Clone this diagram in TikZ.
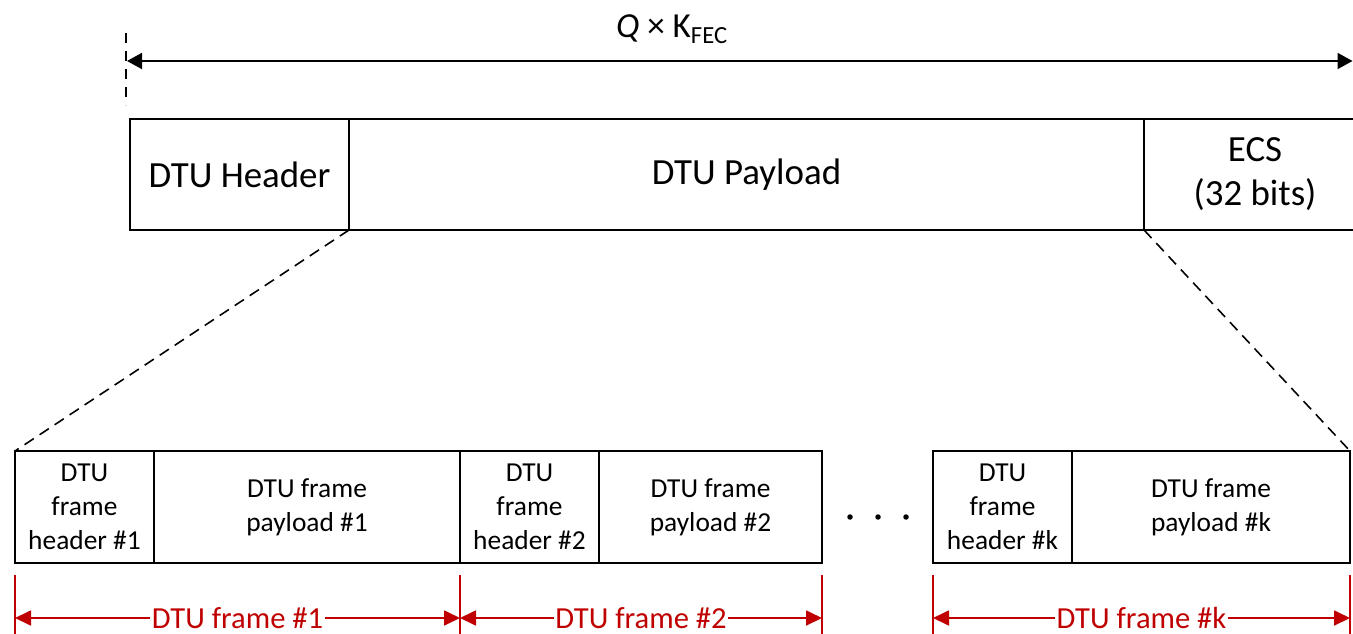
\documentclass[tikz,border=0pt]{standalone}
\usepackage{fontspec}
\setmainfont{Carlito}
\usetikzlibrary{positioning,arrows.meta}
\definecolor{dimred}{HTML}{C00000}
\begin{document}
\begin{tikzpicture}[
  field/.style={draw,line width=1.1pt,minimum height=2.22cm,inner sep=0pt,outer sep=0pt,font=\fontsize{21}{25}\selectfont,align=center},
  sub/.style={draw,line width=1.1pt,minimum height=2.24cm,inner sep=0pt,outer sep=0pt,font=\fontsize{15.6}{19.4}\selectfont,align=center},
  zoomline/.style={line width=0.9pt,dash pattern=on 0.22cm off 0.14cm},
  tick/.style={dimred,line width=1pt},
  span/.style={dimred,line width=1pt,{Triangle[length=0.32cm,width=0.3cm]}-{Triangle[length=0.32cm,width=0.3cm]}},
  spanlabel/.style={fill=white,text=dimred,inner sep=1pt,text height=0.42cm,text depth=0.02cm,font=\fontsize{17.4}{20}\selectfont}]
\clip (0,0) rectangle (27.06,-12.68);
% DTU
\node[field,minimum width=4.38cm] (hdr) at (4.79,-3.49) {DTU Header};
\node[field,minimum width=15.9cm,right=0pt of hdr] (pay) {DTU Payload};
\node[field,minimum width=4.44cm,right=0pt of pay] (ecs) {ECS\\(32 bits)};
% total length
\coordinate (qa) at (2.54,-1.22);
\coordinate (qb) at (27.05,-1.22);
\draw[line width=1pt,dash pattern=on 0.2cm off 0.16cm] (2.52,-0.66) -- (2.52,-2.1);
\draw[line width=1.1pt,{Triangle[length=0.3cm,width=0.32cm]}-{Triangle[length=0.3cm,width=0.32cm]}] (qa) -- (qb);
\node[font=\fontsize{20}{24}\selectfont] (qk) at (13.44,-0.58) {\textit{Q} × K\textsubscript{FEC}};
% DTU frames
\node[sub,minimum width=2.78cm] (fh1) at (1.69,-10.14) {DTU\\frame\\header \#1};
\node[sub,minimum width=6.12cm,right=0pt of fh1] (fp1) {DTU frame\\payload \#1};
\node[sub,minimum width=2.78cm,right=0pt of fp1] (fh2) {DTU\\frame\\header \#2};
\node[sub,minimum width=4.46cm,right=0pt of fh2] (fp2) {DTU frame\\payload \#2};
\node[sub,minimum width=2.78cm] (fhk) at (20.05,-10.14) {DTU\\frame\\header \#k};
\node[sub,minimum width=5.56cm,right=0pt of fhk] (fpk) {DTU frame\\payload \#k};
\foreach \x in {17.0,17.56,18.12}
  \fill (\x,-10.34) circle (0.055);
\draw[zoomline] (pay.south west) -- (fh1.north west);
\draw[zoomline] (pay.south east) -- (fpk.north east);
% frame lengths
\foreach \n/\p in {t1/fh1.south west,t2/fp1.south east,t3/fp2.south east,t4/fhk.south west,t5/fpk.south east}{
  \coordinate (\n) at ([yshift=-0.24cm]\p);
  \draw[tick] (\n) -- ++(0,-1.3);}
\draw[span] ([yshift=-0.86cm]t1) -- ([yshift=-0.86cm]t2) node[midway,spanlabel] (s1) {DTU frame \#1};
\draw[span] ([yshift=-0.86cm]t2) -- ([yshift=-0.86cm]t3) node[midway,spanlabel] (s2) {DTU frame \#2};
\draw[span] ([yshift=-0.86cm]t4) -- ([yshift=-0.86cm]t5) node[midway,spanlabel] (sk) {DTU frame \#k};
\end{tikzpicture}
\end{document}
